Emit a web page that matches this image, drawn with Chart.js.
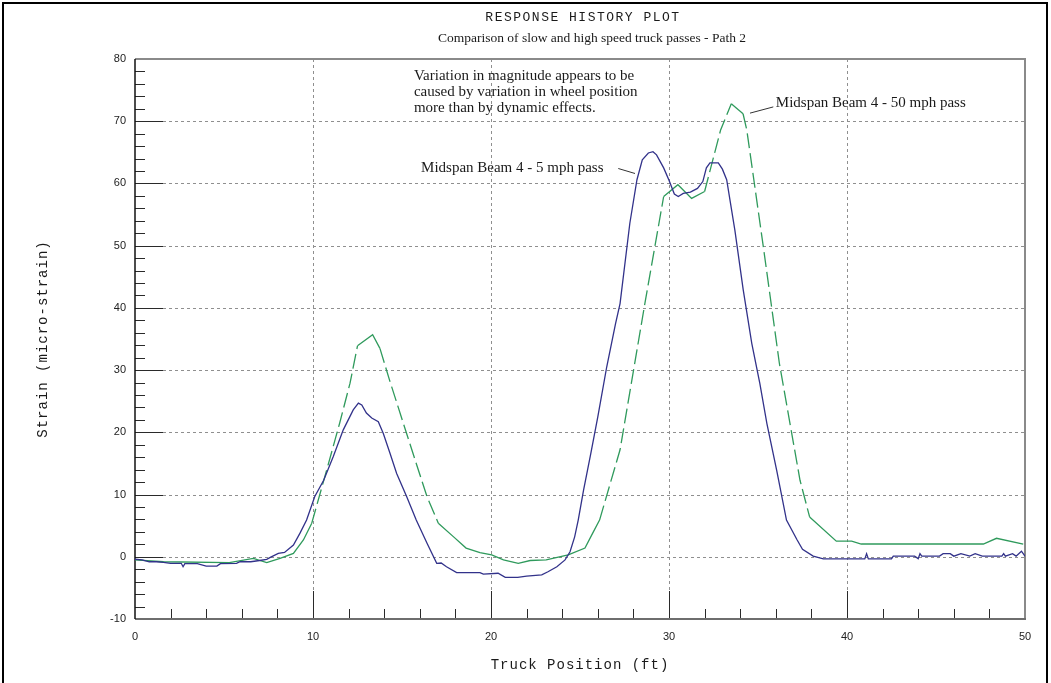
<!DOCTYPE html>
<html>
<head>
<meta charset="utf-8">
<title>Response History Plot</title>
<script src="https://cdn.jsdelivr.net/npm/chart.js@4.4.0/dist/chart.umd.min.js"></script>
<style>
  html, body { margin: 0; padding: 0; background: #fff; }
  #plot { display: block; }
</style>
</head>
<body>
<canvas id="plot" width="1051" height="683"></canvas>
<script>
// Midspan Beam 4 - 5 mph pass (ft, micro-strain)
const posSlow = [0.0, 0.4, 0.8, 1.2, 1.6, 2.0, 2.6, 2.7, 2.8, 3.5, 4.0, 4.6, 4.8, 5.7, 5.9, 6.5, 7.0, 7.4, 7.6, 8.05,
  8.4, 8.9, 9.27, 9.64, 10.1, 10.6, 11.14, 11.7, 12.26, 12.55, 12.74, 13.0, 13.3, 13.67, 13.95, 14.33, 14.7, 15.26, 15.8, 16.4,
  16.95, 17.2, 17.5, 18.07, 19.38, 19.57, 20.4, 20.8, 21.5, 22.0, 22.85, 23.2, 23.7, 24.16, 24.44, 24.7, 24.9, 25.2, 25.6, 26.0,
  26.5, 27.0, 27.25, 27.8, 28.2, 28.5, 28.84, 29.1, 29.3, 29.7, 30.0, 30.3, 30.52, 30.8, 31.2, 31.6, 31.9, 32.1, 32.3, 32.77,
  33.0, 33.24, 33.7, 34.17, 34.65, 35.1, 35.5, 36.05, 36.6, 37.2, 37.5, 38.1, 38.67, 41.0, 41.1, 41.2, 42.5, 42.6, 43.8, 44.0,
  44.1, 44.2, 45.2, 45.4, 45.8, 46.0, 46.4, 46.9, 47.2, 47.6, 48.7, 48.8, 48.9, 49.3, 49.5, 49.8, 50.0];
const strainSlow = [-0.4, -0.5, -0.8, -0.8, -0.9, -1.05, -1.05, -1.6, -1.1, -1.1, -1.5, -1.5, -1.1, -1.05, -0.8, -0.8, -0.6, -0.4, -0.1, 0.55,
  0.7, 1.9, 3.8, 5.9, 9.7, 12.3, 16.1, 20.4, 23.6, 24.7, 24.4, 23.1, 22.3, 21.7, 19.8, 16.6, 13.4, 9.7, 5.9, 2.2,
  -1.05, -1.0, -1.6, -2.55, -2.55, -2.8, -2.65, -3.3, -3.3, -3.1, -2.9, -2.4, -1.6, -0.5, 0.8, 3.2, 5.9, 10.7, 16.5, 22.5,
  30.5, 37.5, 40.7, 53.6, 60.6, 63.8, 64.9, 65.1, 64.6, 62.5, 60.5, 58.3, 57.9, 58.4, 58.6, 59.2, 60.3, 62.5, 63.3, 63.3,
  62.3, 60.6, 52.5, 42.9, 34.3, 27.9, 21.4, 13.9, 5.9, 2.7, 1.2, 0.1, -0.35, -0.35, 0.5, -0.35, -0.35, 0.1, 0.1, -0.3,
  0.5, 0.1, 0.1, 0.5, 0.5, 0.1, 0.5, 0.1, 0.5, 0.1, 0.1, 0.5, 0.1, 0.5, 0.1, 0.9, 0.1];

// Midspan Beam 4 - 50 mph pass
const posFast = [0.0, 1.6, 5.3, 6.65, 7.4, 8.15, 8.9, 9.46, 9.93, 10.77, 11.5, 12.08, 12.5, 13.35, 13.76, 14.3, 15.07, 15.8, 16.4, 17.04,
  17.9, 18.6, 19.38, 20.04, 20.7, 21.53, 22.2, 23.1, 24.34, 25.28, 25.75, 26.1, 27.25, 28.65, 29.7, 30.5, 31.27, 32.0, 32.9, 33.5,
  34.16, 34.37, 35.3, 36.2, 37.36, 37.9, 39.4, 40.26, 40.8, 47.66, 48.4, 49.9];
const strainFast = [-0.5, -0.8, -0.95, -0.25, -0.95, -0.25, 0.55, 2.7, 5.4, 13.95, 21.5, 27.9, 33.9, 35.7, 33.5, 28.4, 21.5, 15.0, 9.7, 5.4,
  3.2, 1.4, 0.66, 0.3, -0.5, -1.05, -0.6, -0.5, 0.3, 1.4, 4.0, 5.9, 17.2, 40.8, 57.9, 59.8, 57.6, 58.7, 68.6, 72.8,
  71.2, 68.6, 49.8, 31.1, 12.3, 6.4, 2.5, 2.5, 2.05, 2.05, 2.97, 2.05];

const xRange = [0, 50];
const yRange = [-10, 80];
const majorStep = 10;
const minorStep = 2;

const titleText = 'RESPONSE HISTORY PLOT';
const subtitleText = 'Comparison of slow and high speed truck passes - Path 2';
const xTitle = 'Truck Position (ft)';
const yTitle = 'Strain (micro-strain)';

// text notes anchored in data units
const noteLines = ['Variation in magnitude appears to be', 'caused by variation in wheel position', 'more than by dynamic effects.'];
const noteAt = [15.67, 77.3];
const slowLabelAt = [16.07, 62.45];
const slowLeader = [[27.15, 62.4], [28.09, 61.6]];
const fastLabelAt = [36.0, 72.9];
const fastLeader = [[34.55, 71.3], [35.86, 72.3]];

const toPoints = (xs, ys) => xs.map((x, i) => ({ x, y: ys[i] }));

const axesPlugin = {
  id: 'axesPlugin',
  beforeDatasetsDraw(chart) {
    const { ctx, chartArea: a, scales: { x, y } } = chart;
    ctx.save();
    // outer frame
    ctx.strokeStyle = '#000';
    ctx.lineWidth = 2;
    ctx.beginPath();
    ctx.moveTo(3, 690); ctx.lineTo(3, 3); ctx.lineTo(1047, 3); ctx.lineTo(1047, 690);
    ctx.stroke();

    // dotted grid
    ctx.strokeStyle = '#8f8f8f';
    ctx.lineWidth = 1;
    ctx.setLineDash([3, 3]);
    ctx.beginPath();
    for (let v = yRange[0] + majorStep; v < yRange[1]; v += majorStep) {
      const py = Math.round(y.getPixelForValue(v)) + 0.5;
      ctx.moveTo(a.left + 28, py); ctx.lineTo(a.right, py);
    }
    for (let v = xRange[0] + majorStep; v < xRange[1]; v += majorStep) {
      const px = Math.round(x.getPixelForValue(v)) + 0.5;
      ctx.moveTo(px, a.top); ctx.lineTo(px, a.bottom - 28);
    }
    ctx.stroke();
    ctx.setLineDash([]);

    // inward ticks
    ctx.strokeStyle = '#2a2a2a';
    ctx.beginPath();
    for (let v = yRange[0] + minorStep; v < yRange[1]; v += minorStep) {
      const py = Math.round(y.getPixelForValue(v)) + 0.5;
      const len = v % majorStep === 0 ? 28 : 10;
      ctx.moveTo(a.left, py); ctx.lineTo(a.left + len, py);
    }
    for (let v = xRange[0] + minorStep; v < xRange[1]; v += minorStep) {
      const px = Math.round(x.getPixelForValue(v)) + 0.5;
      const len = v % majorStep === 0 ? 28 : 10;
      ctx.moveTo(px, a.bottom); ctx.lineTo(px, a.bottom - len);
    }
    ctx.stroke();

    // plot borders
    ctx.strokeStyle = '#8a8a8a';
    ctx.lineWidth = 2;
    ctx.beginPath();
    ctx.moveTo(a.left, a.top); ctx.lineTo(a.right, a.top); ctx.lineTo(a.right, a.bottom);
    ctx.stroke();
    ctx.strokeStyle = '#6e6e6e';
    ctx.beginPath();
    ctx.moveTo(a.left, a.bottom); ctx.lineTo(a.right + 1, a.bottom);
    ctx.stroke();
    ctx.strokeStyle = '#111';
    ctx.lineWidth = 1.5;
    ctx.beginPath();
    ctx.moveTo(a.left, a.top); ctx.lineTo(a.left, a.bottom);
    ctx.stroke();
    ctx.restore();
  },
  afterDraw(chart) {
    const { ctx, chartArea: a, scales: { x, y } } = chart;
    const cx = (a.left + a.right) / 2;
    ctx.save();
    ctx.fillStyle = '#1a1a1a';
    ctx.textBaseline = 'middle';
    ctx.textAlign = 'center';

    ctx.font = '13px "Liberation Mono"';
    ctx.letterSpacing = '1.5px';
    ctx.fillText(titleText, cx + 3, 18);
    ctx.font = '14px "Liberation Mono"';
    ctx.letterSpacing = '1px';
    ctx.fillText(xTitle, cx, 665);
    ctx.save();
    ctx.translate(43, (a.top + a.bottom) / 2);
    ctx.rotate(-Math.PI / 2);
    ctx.fillText(yTitle, 0, 0);
    ctx.restore();

    ctx.letterSpacing = '0px';
    ctx.font = '13.5px "Liberation Serif"';
    ctx.fillText(subtitleText, cx + 12, 38);

    ctx.textAlign = 'left';
    ctx.font = '15px "Liberation Serif"';
    const nx = x.getPixelForValue(noteAt[0]);
    const ny = y.getPixelForValue(noteAt[1]);
    noteLines.forEach((line, i) => ctx.fillText(line, nx, ny + i * 16));
    ctx.fillText('Midspan Beam 4 - 5 mph pass', x.getPixelForValue(slowLabelAt[0]), y.getPixelForValue(slowLabelAt[1]));
    ctx.fillText('Midspan Beam 4 - 50 mph pass', x.getPixelForValue(fastLabelAt[0]), y.getPixelForValue(fastLabelAt[1]));

    ctx.strokeStyle = '#333';
    ctx.lineWidth = 1;
    [slowLeader, fastLeader].forEach(([p0, p1]) => {
      ctx.beginPath();
      ctx.moveTo(x.getPixelForValue(p0[0]), y.getPixelForValue(p0[1]));
      ctx.lineTo(x.getPixelForValue(p1[0]), y.getPixelForValue(p1[1]));
      ctx.stroke();
    });
    ctx.restore();
  }
};

const tickFont = { family: '"Liberation Sans", Arial, sans-serif', size: 11 };

new Chart(document.getElementById('plot'), {
  type: 'line',
  data: {
    datasets: [
      {
        label: 'Midspan Beam 4 - 5 mph pass',
        data: toPoints(posSlow, strainSlow),
        borderColor: '#32328a',
        borderWidth: 1.3,
        pointRadius: 0,
        tension: 0,
      },
      {
        label: 'Midspan Beam 4 - 50 mph pass',
        data: toPoints(posFast, strainFast),
        borderColor: '#2f9a5c',
        borderWidth: 1.3,
        pointRadius: 0,
        tension: 0,
        segment: {
          borderDash: (c) => {
            const slope = (c.p1.parsed.y - c.p0.parsed.y) / (c.p1.parsed.x - c.p0.parsed.x);
            return Math.abs(slope) > 6 ? [15, 5] : undefined;
          },
        },
      },
    ],
  },
  options: {
    responsive: false,
    animation: false,
    devicePixelRatio: 1,
    layout: { padding: { top: 59, right: 26, left: 0, bottom: 0 } },
    plugins: {
      legend: { display: false },
      tooltip: { enabled: false },
    },
    scales: {
      x: {
        type: 'linear',
        min: xRange[0],
        max: xRange[1],
        ticks: { stepSize: majorStep, padding: 11, font: tickFont, color: '#222', maxRotation: 0 },
        grid: { display: false, drawTicks: false },
        border: { display: false },
        afterFit: (s) => { s.height = 64; },
      },
      y: {
        type: 'linear',
        min: yRange[0],
        max: yRange[1],
        ticks: { stepSize: majorStep, padding: 9, font: tickFont, color: '#222' },
        grid: { display: false, drawTicks: false },
        border: { display: false },
        afterFit: (s) => { s.width = 135; },
      },
    },
  },
  plugins: [axesPlugin],
});
</script>
</body>
</html>
